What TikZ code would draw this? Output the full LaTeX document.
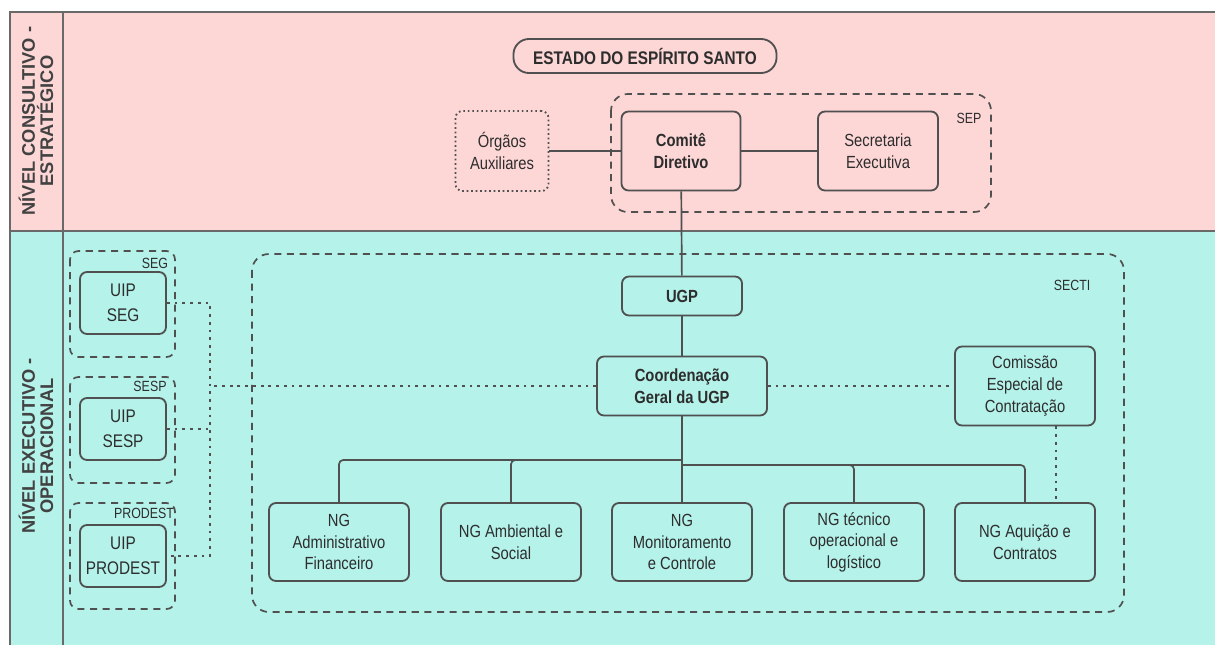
\documentclass[tikz,border=0pt]{standalone}
\usepackage{fontspec}
\setmainfont{Liberation Sans}[FakeStretch=0.84]
\newfontfamily\bandfont{Liberation Sans}

\definecolor{pinkband}{RGB}{253,214,214}
\definecolor{cyanband}{RGB}{180,242,234}
\definecolor{boxgray}{RGB}{80,80,80}
\definecolor{framegray}{RGB}{105,105,105}
\definecolor{textgray}{RGB}{45,45,45}

\begin{document}
\begin{tikzpicture}[x=0.025cm,y=-0.025cm,
  main node/.style={draw=boxgray,line width=1.3pt,rounded corners=5pt,align=center,
    inner sep=2pt,text=textgray,font=\fontsize{12.5}{15.4}\selectfont},
  bold node/.style={main node,font=\bfseries\fontsize{12.5}{15.4}\selectfont},
  ng node/.style={main node,minimum width=3.5cm,minimum height=1.95cm},
  uip node/.style={main node,minimum width=2.15cm,minimum height=1.55cm,font=\fontsize{13}{18}\selectfont},
  group box/.style={draw=boxgray,line width=1.2pt,dash pattern=on 5pt off 4pt,rounded corners=12pt},
  small group/.style={group box,rounded corners=6pt},
  group label/.style={text=textgray,font=\fontsize{10.5}{11}\selectfont,inner sep=0pt},
  band label/.style={rotate=90,align=center,text=textgray!90,
    font=\bandfont\bfseries\fontsize{13}{13}\selectfont},
  solid line/.style={draw=boxgray,line width=1.2pt},
  dotted line/.style={draw=boxgray,line width=1.2pt,dash pattern=on 2pt off 3.5pt},
  frame line/.style={draw=framegray,line width=1.6pt}]

  \useasboundingbox (0,0) rectangle (1215,645);

  % bands
  \fill[pinkband] (10,12) rectangle (1215,231);
  \fill[cyanband] (10,231) rectangle (1215,645);
  \draw[frame line] (1215,12) -- (10,12) -- (10,645);
  \draw[frame line] (63,12) -- (63,645);
  \draw[frame line] (10,231) -- (1215,231);

  \node[band label] (lvl1) at (36,121) {NÍVEL CONSULTIVO -\\ESTRATÉGICO};
  \node[band label] (lvl2) at (36,446) {NÍVEL EXECUTIVO -\\OPERACIONAL};

  % groups
  \draw[group box] (611,94) rectangle (991,212);
  \node[group label] (sep) at (969,118) {SEP};
  \draw[group box] (252,254) rectangle (1124,612);
  \node[group label] (secti) at (1072,285) {SECTI};
  \draw[small group] (70,251) rectangle (175,357);
  \node[group label] (seg) at (155,263) {SEG};
  \draw[small group] (70,377) rectangle (175,483);
  \node[group label] (sesp) at (150,386) {SESP};
  \draw[small group] (70,503) rectangle (175,609);
  \node[group label] (prodest) at (144,513) {PRODEST};

  % consultive level
  \node[bold node,font=\bfseries\fontsize{13}{15}\selectfont,rounded corners=11pt,minimum width=6.575cm,minimum height=0.85cm] (estado) at (645,56) {ESTADO DO ESPÍRITO SANTO};
  \node[main node,dash pattern=on 1.2pt off 2pt,minimum width=2.325cm,minimum height=2cm] (orgaos) at (502,151) {Órgãos\\Auxiliares};
  \node[bold node,minimum width=2.975cm,minimum height=1.975cm] (comite) at (681,151) {Comitê\\Diretivo};
  \node[main node,minimum width=3cm,minimum height=1.975cm] (secretaria) at (878,151) {Secretaria\\Executiva};

  % executive level
  \node[bold node,minimum width=3cm,minimum height=0.975cm] (ugp) at (682,296) {UGP};
  \node[bold node,minimum width=4.25cm,minimum height=1.475cm] (coord) at (682,386) {Coordenação\\Geral da UGP};
  \node[main node,minimum width=3.5cm,minimum height=1.975cm] (comissao) at (1025,386) {Comissão\\Especial de\\Contratação};

  \node[ng node] (ngadm) at (339,542) {NG\\Administrativo\\Financeiro};
  \node[ng node] (ngamb) at (511,542) {NG Ambiental e\\Social};
  \node[ng node] (ngmon) at (682,542) {NG\\Monitoramento\\e Controle};
  \node[ng node] (ngtec) at (854,542) {NG técnico\\operacional e\\logístico};
  \node[ng node] (ngaq) at (1025,542) {NG Aquição e\\Contratos};

  \node[uip node] (uipseg) at (123,303) {UIP\\SEG};
  \node[uip node] (uipsesp) at (123,429) {UIP\\SESP};
  \node[uip node] (uipprod) at (123,556) {UIP\\PRODEST};

  \coordinate (busl) at (682,460);
  \coordinate (busr) at (682,465);
  \coordinate (jseg) at (210,303);
  \coordinate (jprod) at (210,556);

  % connectors
  \path[solid line] (orgaos) edge (comite);
  \path[solid line] (comite) edge (secretaria);
  \path[solid line] (comite) edge (ugp);
  \path[solid line] (ugp) edge (coord);
  \path[solid line] (coord) edge (ngmon);
  \draw[solid line,rounded corners=3pt] (busl) -| (ngadm);
  \draw[solid line,rounded corners=3pt] (busl) -| (ngamb);
  \draw[solid line,rounded corners=3pt] (busr) -| (ngtec);
  \draw[solid line,rounded corners=3pt] (busr) -| (ngaq);

  \draw[dotted line] (coord) -- (comissao);
  \draw[dotted line] ([xshift=0.775cm]comissao.south) -- ([xshift=0.775cm]ngaq.north);
  \draw[dotted line] (uipseg.east) -- (jseg) -- (jprod) -- (uipprod.east);
  \draw[dotted line] (uipsesp.east) -- (uipsesp.east -| jseg);
  \draw[dotted line] (coord.west) -- (coord.west -| jseg);
\end{tikzpicture}
\end{document}
